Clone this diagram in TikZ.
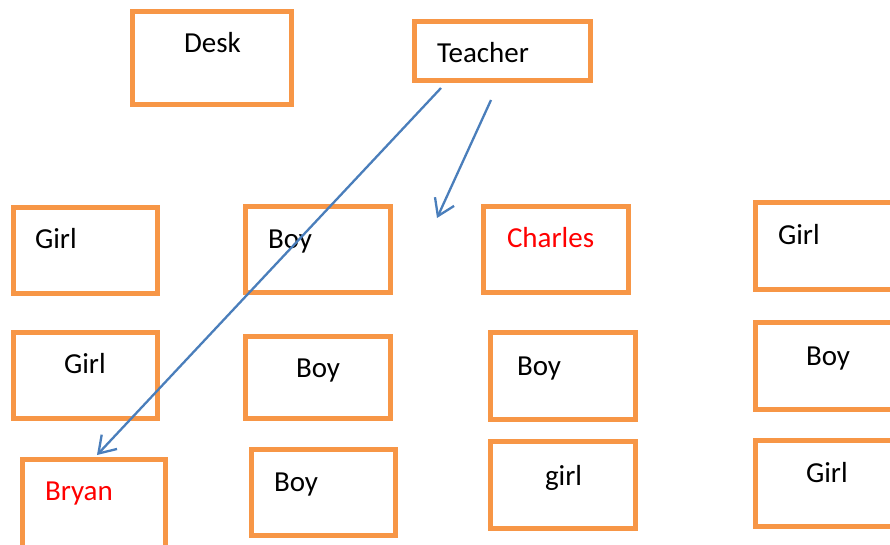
\documentclass[tikz,border=0pt]{standalone}
\usepackage{fontspec}
\setmainfont{Carlito}
\usetikzlibrary{arrows.meta}
\definecolor{deskorange}{HTML}{F79646}
\definecolor{arrowblue}{HTML}{4A7EBB}
\definecolor{namered}{HTML}{FF0000}
\tikzset{
  seat/.style={draw=deskorange, line width=5pt, rectangle, inner sep=0pt, outer sep=0pt},
  lbl/.style={anchor=base west, inner sep=0pt, outer sep=0pt, font=\fontsize{29}{34}\selectfont},
  namelbl/.style={lbl, text=namered},
  pointer/.style={draw=arrowblue, line width=2.3pt,
    -{Straight Barb[length=16pt, width=21pt, line width=2.3pt]}}
}
\begin{document}
\begin{tikzpicture}[x=1pt, y=-1pt]
\useasboundingbox (0,0) rectangle (890,544);

% front of the room
\node[seat, minimum width=159pt, minimum height=93pt] (desk) at (212,58) {};
\node[seat, minimum width=176pt, minimum height=59pt] (teacher) at (502.5,51) {};
\node[lbl] (deskT) at (184,52) {Desk};
\node[lbl] (teacherT) at (437,62) {Teacher};

% first row
\node[seat, minimum width=144pt, minimum height=86pt] (s11) at (85.5,250.5) {};
\node[seat, minimum width=145pt, minimum height=86pt] (s12) at (318,249.5) {};
\node[seat, minimum width=145pt, minimum height=86pt] (s13) at (556,249.5) {};
\node[seat, minimum width=145pt, minimum height=87pt] (s14) at (828,246) {};
\node[lbl] (s11T) at (35,248) {Girl};
\node[lbl] (s12T) at (268,248) {Boy};
\node[namelbl] (s13T) at (507,247) {Charles};
\node[lbl] (s14T) at (778,244) {Girl};

% second row
\node[seat, minimum width=144pt, minimum height=86pt] (s21) at (85.5,375.5) {};
\node[seat, minimum width=145pt, minimum height=82pt] (s22) at (318,377.5) {};
\node[seat, minimum width=145pt, minimum height=87pt] (s23) at (563,376) {};
\node[seat, minimum width=145pt, minimum height=87pt] (s24) at (828,366) {};
\node[lbl] (s21T) at (64,373) {Girl};
\node[lbl] (s22T) at (296,377) {Boy};
\node[lbl] (s23T) at (517,375) {Boy};
\node[lbl] (s24T) at (806,365) {Boy};

% third row (the first box runs past the lower edge)
\node[seat, minimum width=143pt, minimum height=92pt] (s31) at (94,505.5) {};
\node[seat, minimum width=144pt, minimum height=86pt] (s32) at (323.5,492.5) {};
\node[seat, minimum width=145pt, minimum height=87pt] (s33) at (563,485) {};
\node[seat, minimum width=145pt, minimum height=86pt] (s34) at (828,483.5) {};
\node[namelbl] (s31T) at (45,500) {Bryan};
\node[lbl] (s32T) at (274,491) {Boy};
\node[lbl] (s33T) at (545,485) {girl};
\node[lbl] (s34T) at (806,482) {Girl};

% arrows from the teacher
\coordinate (tA) at (441,88);
\coordinate (tB) at (491,100);
\coordinate (bryanTop) at (97,455);
\coordinate (aisle) at (437,218);
\draw[pointer] (tA) -- (bryanTop);
\draw[pointer] (tB) -- (aisle);
\end{tikzpicture}
\end{document}
